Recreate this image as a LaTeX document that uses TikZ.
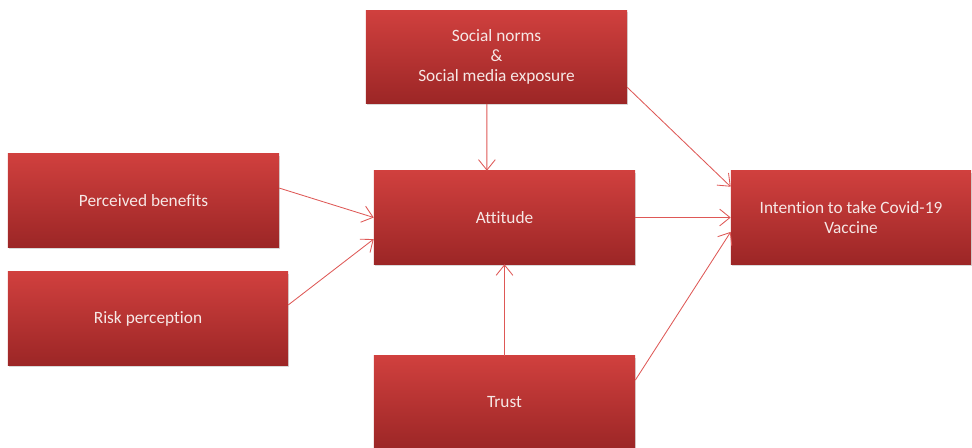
\documentclass[tikz,border=0pt]{standalone}
\usepackage{fontspec}
\setmainfont{Carlito}[Ligatures={NoCommon}]
\usetikzlibrary{arrows.meta,shadows}

\definecolor{boxtop}{RGB}{208,64,62}
\definecolor{boxbot}{RGB}{156,38,38}
\definecolor{linkred}{RGB}{222,88,86}
\definecolor{boxtext}{RGB}{246,232,230}

\tikzset{
	factor/.style={rectangle, top color=boxtop, bottom color=boxbot, text=boxtext,
		minimum height=2.325cm, align=center, inner sep=2pt,
		font=\fontsize{12.3}{14.3}\selectfont,
		drop shadow={shadow xshift=0.4pt, shadow yshift=-1.4pt, opacity=0.3}},
	link/.style={draw=linkred, line width=0.6pt, -{Straight Barb[length=2.6mm,width=4.2mm]}}
}

\begin{document}
\begin{tikzpicture}[x=0.025cm, y=-0.025cm]
		\useasboundingbox (0,0) rectangle (972,447);
		\node[factor, minimum width=6.525cm] (sn) at (496.5,57) {Social norms\\ \&\\ Social media exposure};
		\node[factor, minimum width=6.775cm] (pb) at (143.5,200.5) {Perceived benefits};
		\node[factor, minimum width=7cm] (rp) at (148,318.5) {Risk perception};
		\node[factor, minimum width=6.525cm] (att) at (504.5,217.5) {Attitude};
		\node[factor, minimum width=6cm] (int) at (851,217.5) {Intention to take Covid-19\\ Vaccine};
		\node[factor, minimum width=6.525cm] (tr) at (504.5,402.5) {Trust};
		\draw[link] ([xshift=-0.24cm]sn.south) -- ([xshift=-0.44cm]att.north);
		\draw[link] ([yshift=0.41cm]sn.south east) -- ([yshift=-0.4cm]int.north west);
		\draw[link] ([yshift=0.31cm]pb.east) -- (att.west);
		\draw[link] ([yshift=0.34cm]rp.east) -- ([yshift=-0.54cm]att.west);
		\draw[link] (att.east) -- (int.west);
		\draw[link] ([yshift=0.56cm]tr.east) -- ([yshift=-0.36cm]int.west);
		\draw[link] (tr.north) -- (att.south);
	\end{tikzpicture}
\end{document}
